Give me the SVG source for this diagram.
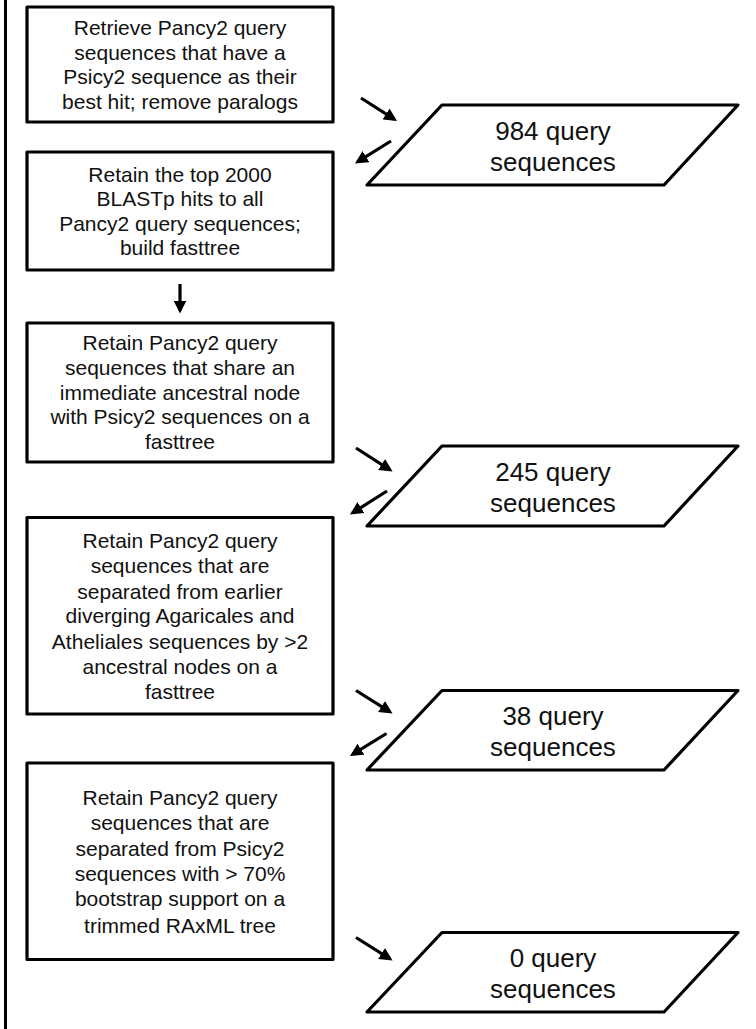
<svg xmlns="http://www.w3.org/2000/svg" width="756" height="1029" viewBox="0 0 756 1029">
<defs>
<marker id="ah" markerUnits="userSpaceOnUse" markerWidth="13" markerHeight="13" refX="10" refY="6.5" orient="auto" viewBox="0 0 13 13">
<path d="M0,0 L13,6.5 L0,13 Z" fill="#000"/>
</marker>
<style>
.box{fill:#fff;stroke:#000;stroke-width:3.2;stroke-linejoin:round}
.t{font-family:"Liberation Sans",Arial,Helvetica,sans-serif;font-size:21px;fill:#111;text-anchor:middle}
.p{font-family:"Liberation Sans",Arial,Helvetica,sans-serif;font-size:26px;fill:#111;text-anchor:middle}
.c{stroke:#000;stroke-width:3.2;fill:none;marker-end:url(#ah)}
</style>
</defs>
<rect width="756" height="1029" fill="#fff"/>
<line x1="5.5" y1="0" x2="5.5" y2="1029" stroke="#000" stroke-width="3"/>

<g id="box1">
<rect class="box" x="27" y="7" width="306" height="115"/>
<text class="t" x="180" y="35">Retrieve Pancy2 query</text>
<text class="t" x="180" y="59.5">sequences that have a</text>
<text class="t" x="180" y="84">Psicy2 sequence as their</text>
<text class="t" x="180" y="108.5">best hit; remove paralogs</text>
</g>

<g id="box2">
<rect class="box" x="27" y="152" width="306" height="118"/>
<text class="t" x="180" y="181.5">Retain the top 2000</text>
<text class="t" x="180" y="206">BLASTp hits to all</text>
<text class="t" x="180" y="230.5">Pancy2 query sequences;</text>
<text class="t" x="180" y="255">build fasttree</text>
</g>

<g id="box3">
<rect class="box" x="27" y="323" width="306" height="139"/>
<text class="t" x="180" y="350">Retain Pancy2 query</text>
<text class="t" x="180" y="374.5">sequences that share an</text>
<text class="t" x="180" y="399.5">immediate ancestral node</text>
<text class="t" x="180" y="424">with Psicy2 sequences on a</text>
<text class="t" x="180" y="449">fasttree</text>
</g>

<g id="box4">
<rect class="box" x="27" y="517.5" width="306" height="196.5"/>
<text class="t" x="180" y="548">Retain Pancy2 query</text>
<text class="t" x="180" y="573">sequences that are</text>
<text class="t" x="180" y="598.5">separated from earlier</text>
<text class="t" x="180" y="623">diverging Agaricales and</text>
<text class="t" x="180" y="649">Atheliales sequences by &gt;2</text>
<text class="t" x="180" y="674">ancestral nodes on a</text>
<text class="t" x="180" y="699">fasttree</text>
</g>

<g id="box5">
<rect class="box" x="27" y="763" width="306" height="196.5"/>
<text class="t" x="180" y="805">Retain Pancy2 query</text>
<text class="t" x="180" y="829.5">sequences that are</text>
<text class="t" x="180" y="856">separated from Psicy2</text>
<text class="t" x="180" y="880.5">sequences with &gt; 70%</text>
<text class="t" x="180" y="906">bootstrap support on a</text>
<text class="t" x="180" y="932.5">trimmed RAxML tree</text>
</g>

<g id="out1">
<polygon class="box" points="442,105 738,105 664,185 367,185"/>
<text class="p" x="553" y="140">984 query</text>
<text class="p" x="553" y="170.5">sequences</text>
</g>

<g id="out2">
<polygon class="box" points="442,446 738,446 664,526 367,526"/>
<text class="p" x="553" y="481">245 query</text>
<text class="p" x="553" y="511.5">sequences</text>
</g>

<g id="out3">
<polygon class="box" points="442,690.5 738,690.5 664,770 367,770"/>
<text class="p" x="553" y="725">38 query</text>
<text class="p" x="553" y="756">sequences</text>
</g>

<g id="out4">
<polygon class="box" points="442,932.5 738,932.5 664,1012 367,1012"/>
<text class="p" x="553" y="967">0 query</text>
<text class="p" x="553" y="997.5">sequences</text>
</g>

<g id="connectors">
<line class="c" x1="361" y1="98" x2="394.5" y2="119.4"/>
<line class="c" x1="391" y1="141" x2="357.5" y2="161.9"/>
<line class="c" x1="180" y1="284" x2="180" y2="310.5"/>
<line class="c" x1="356" y1="448" x2="390" y2="469.9"/>
<line class="c" x1="387" y1="491" x2="352.5" y2="512.9"/>
<line class="c" x1="356" y1="690.5" x2="390" y2="711.9"/>
<line class="c" x1="386.5" y1="733.5" x2="352.5" y2="754.4"/>
<line class="c" x1="356" y1="937.5" x2="390" y2="958.9"/>
</g>
</svg>
